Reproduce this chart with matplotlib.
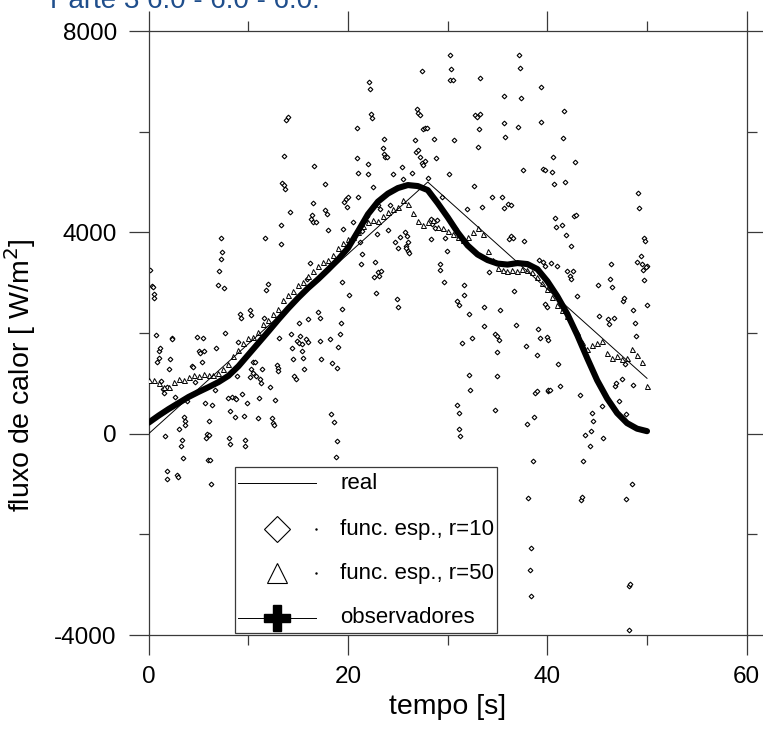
import numpy as np
import matplotlib
matplotlib.use("Agg")
import matplotlib.pyplot as plt
from matplotlib.patches import Rectangle
from matplotlib.ticker import MultipleLocator

plt.rcParams['font.family'] = ['Liberation Sans', 'DejaVu Sans']
plt.rcParams['axes.unicode_minus'] = False

# -------------------------------
# DATA
# -------------------------------
# "real" heat flux: triangular profile
real_t = [0, 28, 50]
real_q = [0, 5000, 1100]

# "observadores" (smooth estimate), one value per second
obs_t = list(range(0, 51))
obs_q = [220, 360, 490, 610, 730, 830, 925, 1025, 1150, 1340,
         1570, 1800, 2030, 2265, 2490, 2700, 2895, 3070, 3260, 3460,
         3690, 4020, 4360, 4610, 4770, 4880, 4940, 4920, 4840, 4580,
         4300, 4000, 3740, 3560, 3450, 3380, 3360, 3390, 3370, 3270,
         3030, 2730, 2380, 1960, 1500, 1060, 700, 410, 210, 100, 50]

# "func. esp., r=50" every 0.5 s
r50_t = [i * 0.5 for i in range(101)]
r50_q = [1070, 1060, 1000, 930, 920, 1020, 1080, 1060, 1120, 1170,
         1150, 1180, 1160, 1170, 1200, 1280, 1390, 1540, 1660, 1800,
         1900, 1920, 2020, 2170, 2250, 2370, 2480, 2660, 2750, 2840,
         2950, 3020, 3140, 3230, 3330, 3420, 3460, 3560, 3690, 3780,
         3860, 3900, 4000, 4130, 4200, 4250, 4230, 4330, 4400, 4470,
         4510, 4650, 4560, 4380, 4230, 4140, 4210, 4250, 4100, 4080,
         4020, 3960, 3900, 3850, 3910, 4000, 4080, 3960, 3620, 3450,
         3300, 3250, 3240, 3250, 3240, 3280, 3260, 3220, 3120, 2990,
         2870, 2720, 2560, 2450, 2330, 2200, 2030, 1830, 1680, 1760,
         1800, 1850, 1600, 1510, 1540, 1480, 1500, 1690, 1560, 1430,
         950]

# "func. esp., r=10" scattered estimate
r10_t = [0.1, 0.3, 0.4, 0.5, 0.5, 0.7, 1.0, 1.1, 1.0, 0.8,
         1.2, 1.4, 1.5, 1.8, 1.6, 1.8, 1.8, 2.0, 2.1, 2.3,
         2.3, 2.6, 2.8, 2.9, 3.0, 3.2, 3.3, 3.4, 3.5, 3.6,
         3.6, 4.3, 4.4, 3.8, 4.8, 5.4, 5.0, 5.1, 5.5, 5.3,
         4.65, 5.6, 5.8, 6.0, 5.7, 5.9, 6.2, 6.3, 6.05, 6.4,
         6.65, 6.8, 7.3, 7.4, 7.3, 7.1, 7.0, 7.6, 7.7, 8.0,
         8.4, 8.7, 8.8, 8.2, 8.7, 8.1, 8.2, 9.0, 8.9, 9.2,
         9.3, 9.4, 9.6, 9.7, 9.7, 9.9, 10.2, 10.3, 10.3, 10.5,
         10.7, 10.2, 10.5, 10.8, 11.2, 11.3, 11.0, 11.1, 11.4, 11.6,
         11.7, 11.8, 12.0, 12.2, 12.4, 12.5, 12.6, 12.7, 12.9, 13.0,
         13.0, 13.1, 13.3, 13.3, 13.4, 13.6, 13.7, 13.6, 13.8, 14.0,
         14.2, 14.3, 14.5, 14.6, 14.8, 14.4, 14.9, 15.1, 15.4, 15.1,
         15.2, 15.4, 15.5, 15.6, 15.8, 16.0, 16.0, 15.85, 16.2, 16.4,
         16.3, 16.5, 16.8, 16.5, 16.6, 17.0, 17.2, 17.2, 17.3, 17.7,
         17.7, 17.9, 18.0, 18.2, 18.3, 18.6, 18.4, 18.9, 18.8, 18.9,
         19.0, 19.2, 19.3, 19.4, 19.4, 19.5, 19.6, 19.8, 19.9, 20.0,
         20.1, 20.5, 20.9, 21.0, 21.0, 21.2, 21.3, 21.4, 20.9, 21.4,
         21.7, 21.9, 22.0, 22.1, 22.2, 22.3, 22.4, 22.0, 22.5, 22.7,
         22.8, 22.6, 23.0, 23.3, 23.1, 22.9, 23.0, 23.2, 23.5, 23.6,
         23.7, 23.9, 23.6, 24.0, 24.2, 24.5, 24.7, 25.0, 24.9, 25.0,
         25.2, 25.4, 25.5, 25.7, 25.9, 25.8, 25.8, 26.0, 26.1, 26.0,
         26.4, 26.7, 26.8, 26.9, 27.0, 27.2, 27.0, 27.2, 27.5, 27.7,
         27.9, 27.4, 27.7, 27.5, 27.4, 28.0, 28.6, 28.8, 28.3, 28.4,
         28.3, 28.7, 28.9, 29.2, 29.2, 29.4, 29.6, 30.1, 30.2, 30.3,
         30.2, 30.5, 30.6, 29.7, 29.9, 30.7, 30.9, 31.1, 30.9, 31.1,
         31.1, 31.2, 31.4, 31.6, 31.6, 31.9, 32.1, 32.1, 32.2, 32.4,
         32.6, 32.7, 32.9, 33.1, 33.2, 33.0, 33.2, 33.4, 33.6, 33.6,
         34.1, 34.4, 34.7, 34.9, 35.1, 34.9, 34.7, 34.9, 35.2, 35.4,
         35.7, 35.6, 35.7, 35.8, 36.1, 36.4, 36.2, 36.4, 36.6, 36.7,
         36.9, 37.1, 37.2, 37.3, 37.4, 37.6, 37.7, 37.9, 38.0, 38.7,
         38.6, 38.1, 38.4, 38.3, 38.4, 38.8, 39.0, 39.0, 39.1, 39.3,
         39.2, 39.6, 39.8, 39.4, 39.4, 39.6, 39.8, 40.0, 40.1, 39.8,
         40.6, 40.5, 40.7, 41.7, 41.6, 41.8, 42.8, 40.8, 40.9, 41.5,
         41.9, 42.4, 42.7, 42.9, 40.4, 41.0, 42.0, 42.3, 42.4, 42.6,
         43.0, 40.0, 40.1, 40.1, 40.3, 41.1, 41.3, 43.3, 43.6, 43.4,
         43.5, 43.8, 44.3, 44.4, 44.6, 44.5, 45.6, 45.5, 45.1, 45.2,
         46.1, 46.2, 46.3, 46.4, 46.5, 46.7, 46.8, 46.9, 47.2, 47.5,
         47.6, 47.7, 47.8, 47.9, 47.9, 48.5, 48.2, 48.3, 48.2, 48.6,
         48.8, 48.9, 48.6, 49.1, 49.2, 49.7, 49.8, 49.4, 49.0, 49.5,
         49.6, 50.0, 49.9, 49.7, 50.0]
r10_q = [3260, 2930, 2910, 2770, 2700, 1960, 1650, 1700, 1510, 1430,
         1050, 880, 800, 920, -40, -740, -910, 1290, 1490, 1900,
         1880, 730, -830, -870, 100, -250, -130, -480, 340, 260,
         180, 1350, 1330, 650, 1920, 1910, 1650, 1600, 1640, 1430,
         1020, 610, -10, -30, -90, -530, -530, -990, 260, 570,
         870, 1700, 3890, 3610, 3470, 3240, 2950, 2890, 2010, 700,
         730, 700, 690, 460, 340, -90, -210, 1820, 1140, 2370,
         2290, 780, 360, -250, -130, 610, 2450, 2350, 1280, 1430,
         1420, 1120, 1200, 1140, 1080, 1000, 320, 710, 1280, 2300,
         3890, 2850, 2980, 930, 310, 220, 180, 670, 1370, 1310,
         1250, 1900, 3760, 4150, 4980, 4940, 4860, 5520, 6240, 6290,
         4400, 1980, 1490, 1140, 1080, 1700, 1840, 1800, 1780, 2190,
         1950, 1650, 1510, 1280, 1880, 1820, 2270, 3080, 3400, 4340,
         4260, 4200, 4200, 4580, 5320, 2410, 2300, 1840, 1490, 4960,
         4450, 4360, 4040, 1880, 400, 240, 1400, -150, -460, 1310,
         1720, 1980, 2200, 2470, 3010, 4060, 4610, 4660, 4500, 4700,
         2760, 4200, 6070, 5180, 4710, 3810, 3380, 3580, 5470, 4020,
         4240, 4330, 5350, 6990, 6840, 6360, 6270, 5160, 4900, 3420,
         2800, 3110, 3210, 3240, 3140, 3970, 4550, 4470, 5680, 5560,
         5490, 5490, 5850, 4040, 4540, 5150, 3810, 3680, 2680, 2520,
         3910, 5290, 5060, 4010, 3930, 3730, 3680, 3630, 3590, 3810,
         5180, 5840, 5600, 6460, 6380, 6330, 5640, 5490, 6050, 6070,
         6070, 5370, 5410, 5330, 7200, 5080, 5850, 5470, 3870, 4160,
         4260, 4080, 4240, 3370, 3260, 4710, 3010, 5150, 7530, 7240,
         7020, 7020, 5840, 3890, 3620, 4080, 2640, 2560, 570, 420,
         100, -50, 1810, 2950, 2760, 4470, 2380, 1160, 870, 1900,
         4920, 6330, 6290, 6050, 6360, 5700, 7060, 4500, 2130, 2520,
         3210, 4710, 1980, 1940, 1860, 1620, 470, 1140, 2450, 4710,
         4490, 6700, 6170, 5890, 4570, 4550, 3870, 3930, 3890, 2840,
         2150, 6090, 7530, 7260, 6660, 5230, 3830, 1740, 200, 340,
         -540, -1280, -2270, -2700, -3230, 810, 850, 1560, 2090, 1900,
         3460, 3420, 3330, 6890, 6190, 5250, 2580, 2520, 850, 5240,
         5500, 5200, 4960, 6410, 5880, 5000, 5390, 4290, 4100, 4140,
         3940, 3730, 4330, 4340, 3400, 3330, 3230, 3130, 3070, 3240,
         2730, 1920, 1860, 870, 860, 1390, 940, 760, -540, -1320,
         -1250, -20, -250, 50, 250, 420, -90, 560, 2950, 2330,
         2270, 2170, 3070, 3370, 2910, 2290, 950, 1000, 640, 1080,
         2640, 2700, 1380, 390, -1300, -1000, -3020, -2980, -3910, 2460,
         2200, 1940, 960, 4790, 4490, 3890, 3830, 3540, 3420, 3370,
         3250, 3340, 3320, 3050, 2550]

legend_labels = ["real", "func. esp., r=10", "func. esp., r=50", "observadores"]

# -------------------------------
# FIGURE
# -------------------------------
fig = plt.figure(figsize=(7.63, 7.39), dpi=100)
ax = fig.add_axes([0.1949, 0.1407, 0.7837, 0.8173])

ink = '#3a3a3a'

ax.plot(r10_t, r10_q, linestyle='none', marker='D', markersize=2.4,
        markerfacecolor='white', markeredgecolor='black', markeredgewidth=0.8, zorder=2)
ax.plot(r50_t, r50_q, linestyle='none', marker='^', markersize=3.6,
        markerfacecolor='white', markeredgecolor='black', markeredgewidth=0.7, zorder=3)
ax.plot(real_t, real_q, color='black', linewidth=0.7, zorder=4)
ax.plot(obs_t, obs_q, color='black', linewidth=4.4, solid_capstyle='round',
        solid_joinstyle='round', zorder=5)

ax.set_xlim(0, 60)
ax.set_ylim(-4000, 8000)
ax.xaxis.set_major_locator(MultipleLocator(20))
ax.xaxis.set_minor_locator(MultipleLocator(10))
ax.yaxis.set_major_locator(MultipleLocator(4000))
ax.yaxis.set_minor_locator(MultipleLocator(2000))

ax.tick_params(which='both', direction='out', top=True, right=True,
               color=ink, width=0.9, labelsize=17.5)
ax.tick_params(which='major', length=14.5, pad=8)
ax.tick_params(which='minor', length=7.2)
ax.tick_params(axis='y', which='major', pad=8.5)
for s in ax.spines.values():
    s.set_color(ink)
    s.set_linewidth(0.9)

ax.set_xlabel("tempo [s]", fontsize=20.5)
ax.set_ylabel("fluxo de calor [ W/m$^2$]", fontsize=20.5)
ax.xaxis.set_label_coords(0.5, -0.097)
ax.yaxis.set_label_coords(-0.185, 0.43)

# -------------------------------
# LEGEND (drawn by hand, Grapher style)
# -------------------------------
tr = ax.transAxes
ax.add_patch(Rectangle((0.1443, 0.003), 0.4387, 0.2747, transform=tr,
                       facecolor='white', edgecolor=ink, linewidth=0.9, zorder=10))
rows = [0.2512, 0.175, 0.1022, 0.0286]
hx0, hx1, hxm, tx = 0.1498, 0.2793, 0.214, 0.32
ax.plot([hx0, hx1], [rows[0], rows[0]], transform=tr, color='black', lw=0.7, zorder=11)
ax.plot([hxm], [rows[1]], transform=tr, marker='D', ms=13.5, mfc='white', mec='black',
        mew=0.8, zorder=11)
ax.plot([hx1], [rows[1]], transform=tr, marker='.', ms=1.5, color='black', zorder=11)
ax.plot([hxm], [rows[2]], transform=tr, marker='^', ms=15, mfc='white', mec='black',
        mew=0.8, zorder=11)
ax.plot([hx1], [rows[2]], transform=tr, marker='.', ms=1.5, color='black', zorder=11)
ax.plot([hx0, hx1], [rows[3], rows[3]], transform=tr, color='black', lw=0.7, zorder=11)
ax.plot([hxm], [rows[3]], transform=tr, marker='P', ms=18.5, color='black', zorder=12)
for y, lab in zip(rows, legend_labels):
    ax.text(tx, y, lab, transform=tr, fontsize=16, va='center', ha='left', zorder=12)

# caption of the page, cut by the top edge as in the source image
fig.text(0.065, 0.989, "Parte 3 6.0 - 6.0 - 6.0.", color='#1f4e8c', fontsize=20,
         va='baseline', ha='left')

fig.savefig("out.png", dpi=100)
